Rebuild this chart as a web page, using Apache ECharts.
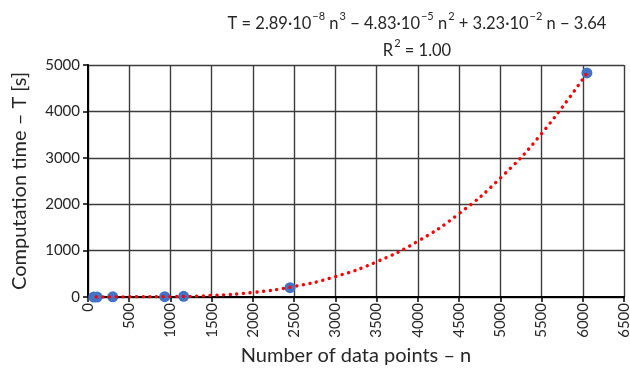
<!DOCTYPE html>
<html>
<head>
<meta charset="utf-8">
<script src="https://cdn.jsdelivr.net/npm/echarts@6/dist/echarts.min.js"></script>
<style>
  html, body { margin: 0; padding: 0; background: #fff; }
  #main { width: 630px; height: 373px; }
</style>
</head>
<body>
<div id="main"></div>
<script>
// measured points
var nPoints = [70, 110, 300, 930, 1160, 2450, 6050];
var tPoints = [0, 0, 4, 8, 14, 200, 4830];

// polynomial trendline, values
var nTrend = [100, 500, 1000, 1500, 2000, 2500, 3000, 3500, 4000, 4500, 5000, 5500, 6050];
var tTrend = [-1, 4, 9, 34, 99, 227, 439, 758, 1202, 1797, 2563, 3521, 4824];

var xTicks = { min: 0, max: 6500, step: 500 };
var yTicks = { min: 0, max: 5000, step: 1000 };

// equation pieces: [normal text, superscript]
var eqParts = [
    ['T = 2.89·10', '−8'], [' n', '3'], [' − 4.83·10', '−5'], [' n', '2'],
    [' + 3.23·10', '−2'], [' n − 3.64', '']
];
var rParts = [['R', '2'], [' = 1.00', '']];

var fontFam = 'Lato';
var textCol = '#262626';

function richText(parts) {
    return parts.map(function (p) {
        return '{n|' + p[0] + '}' + (p[1] ? '{s|' + p[1] + '}' : '');
    }).join('');
}
var richStyle = {
    n: { fontFamily: fontFam, fontSize: 16.5, fontWeight: 'normal', color: textCol, lineHeight: 22, verticalAlign: 'bottom' },
    s: { fontFamily: fontFam, fontSize: 11, fontWeight: 'normal', color: textCol, lineHeight: 22, verticalAlign: 'top', padding: [1, 0, 0, 1] }
};

var chart = echarts.init(document.getElementById('main'));

var option = {
    animation: false,
    title: [
        {
            text: richText(eqParts),
            left: 412, top: 5, textAlign: 'center',
            textStyle: { fontWeight: 'normal', rich: richStyle }
        },
        {
            text: richText(rParts),
            left: 412, top: 32, textAlign: 'center',
            textStyle: { fontWeight: 'normal', rich: richStyle }
        }
    ],
    grid: { left: 88, right: 6, top: 65, bottom: 76, outerBoundsMode: 'none' },
    xAxis: {
        type: 'value',
        min: xTicks.min, max: xTicks.max, interval: xTicks.step,
        name: 'Number of data points – n',
        nameLocation: 'middle', nameGap: 49,
        nameTextStyle: { fontFamily: fontFam, fontSize: 20, color: textCol },
        axisLine: { onZero: false, lineStyle: { color: '#000', width: 2 } },
        axisTick: { show: true, length: 5, lineStyle: { color: '#000', width: 1.5 } },
        axisLabel: {
            rotate: 90, fontFamily: fontFam, fontSize: 15, color: textCol, margin: 6,
            formatter: function (v) { return String(v); }
        },
        splitLine: { show: true, lineStyle: { color: '#3c3c3c', width: 1.4 } }
    },
    yAxis: {
        type: 'value',
        min: yTicks.min, max: yTicks.max, interval: yTicks.step,
        name: 'Computation time – T [s]',
        nameLocation: 'middle', nameGap: 58,
        nameTextStyle: { fontFamily: fontFam, fontSize: 20, color: textCol },
        axisLine: { show: true, lineStyle: { color: '#000', width: 2 } },
        axisTick: { show: true, length: 5, lineStyle: { color: '#000', width: 1.5 } },
        axisLabel: {
            fontFamily: fontFam, fontSize: 15, color: textCol, margin: 8,
            formatter: function (v) { return String(v); }
        },
        splitLine: { show: true, lineStyle: { color: '#3c3c3c', width: 1.4 } }
    },
    series: [
        {
            name: 'data',
            type: 'scatter',
            symbolSize: 11,
            itemStyle: { color: '#4472C4', opacity: 1 },
            data: nPoints.map(function (n, i) { return [n, tPoints[i]]; }),
            z: 2
        },
        {
            name: 'trend',
            type: 'line',
            smooth: true,
            showSymbol: false,
            symbol: 'none',
            lineStyle: { color: '#FF0000', width: 3.4, type: [0.1, 6.6], cap: 'round' },
            data: nTrend.map(function (n, i) { return [n, tTrend[i]]; }),
            z: 3
        }
    ]
};

chart.setOption(option);
</script>
</body>
</html>
